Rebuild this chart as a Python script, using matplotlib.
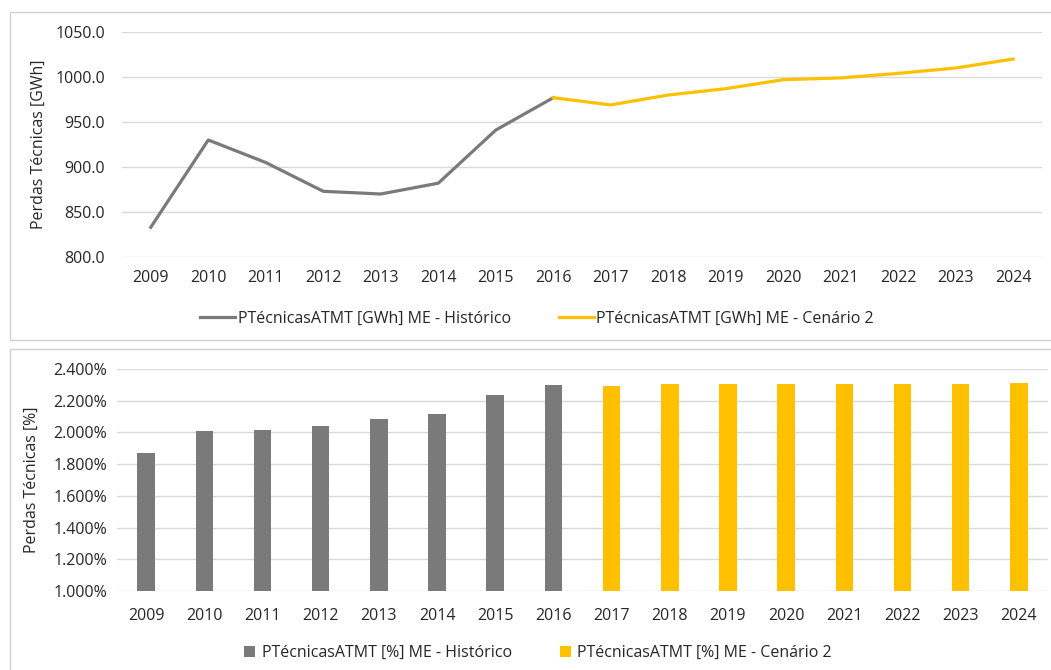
import matplotlib.pyplot as plt
from matplotlib.patches import Rectangle
from matplotlib.ticker import FuncFormatter

plt.rcParams['font.family'] = ['Open Sans', 'DejaVu Sans']

anos = ['2009', '2010', '2011', '2012', '2013', '2014', '2015', '2016',
        '2017', '2018', '2019', '2020', '2021', '2022', '2023', '2024']

# perdas em GWh
gwh_hist = [833, 930, 905, 873, 870, 882, 941, 977]
gwh_cen2 = [977, 969, 980, 987, 997, 999, 1004, 1010, 1020]

# perdas em %
pct_hist = [1.870, 2.008, 2.018, 2.043, 2.085, 2.118, 2.236, 2.300]
pct_cen2 = [2.290, 2.305, 2.305, 2.305, 2.305, 2.305, 2.307, 2.310]

cinza = '#7a7a7a'
amarelo = '#ffc000'
grelha = '#d9d9d9'
texto = '#262626'
fs = 11.5

W, H = 1051, 670
fig = plt.figure(figsize=(W / 100, H / 100), dpi=100)

# molduras dos dois graficos
for y0, y1 in [(12, 340), (349, 672)]:
    fig.patches.append(Rectangle((10 / W, 1 - y1 / H), (W - 9) / W, (y1 - y0) / H,
                                 transform=fig.transFigure, fill=False,
                                 edgecolor='#d0d0d0', linewidth=1))


def estilo(ax):
    for s in ax.spines.values():
        s.set_visible(False)
    ax.grid(axis='y', color=grelha, linewidth=1)
    ax.set_axisbelow(True)
    ax.tick_params(length=0, labelsize=fs, colors=texto)
    ax.set_xticks(range(len(anos)))
    ax.set_xticklabels(anos)
    ax.set_xlim(-0.5, len(anos) - 0.5)


# grafico de cima: linhas
ax1 = fig.add_axes([122 / W, 1 - 257 / H, 920 / W, 225 / H])
estilo(ax1)
x_hist = list(range(len(gwh_hist)))
x_cen2 = list(range(len(gwh_hist) - 1, len(anos)))
ax1.plot(x_hist, gwh_hist, color=cinza, linewidth=2.3,
         label='PTécnicasATMT [GWh] ME - Histórico')
ax1.plot(x_cen2, gwh_cen2, color=amarelo, linewidth=2.3,
         label='PTécnicasATMT [GWh] ME - Cenário 2')
ax1.set_ylim(800, 1050)
ax1.set_yticks([800, 850, 900, 950, 1000, 1050])
ax1.yaxis.set_major_formatter(FuncFormatter(lambda v, p: f'{v:.1f}'))
ax1.tick_params(axis='x', pad=9.5)
ax1.tick_params(axis='y', pad=12)
ax1.set_ylabel('Perdas Técnicas [GWh]', fontsize=fs, color=texto)
ax1.yaxis.set_label_coords(-0.0815, 0.5)
fig.legend(*ax1.get_legend_handles_labels(), loc='center', ncol=2,
           bbox_to_anchor=(537 / W, 1 - 319 / H), frameon=False,
           fontsize=fs, handlelength=2.2, handletextpad=0.15,
           columnspacing=3.0, labelcolor=texto)

# grafico de baixo: barras
ax2 = fig.add_axes([117 / W, 1 - 591 / H, 931 / W, 222 / H])
estilo(ax2)
ax2.bar(range(len(pct_hist)), [v - 1.0 for v in pct_hist], bottom=1.0,
        width=0.3, color=cinza, label='PTécnicasATMT [%] ME - Histórico')
ax2.bar(range(len(pct_hist), len(anos)), [v - 1.0 for v in pct_cen2], bottom=1.0,
        width=0.3, color=amarelo, label='PTécnicasATMT [%] ME - Cenário 2')
ax2.set_ylim(1.0, 2.4)
ax2.set_yticks([1.0, 1.2, 1.4, 1.6, 1.8, 2.0, 2.2, 2.4])
ax2.yaxis.set_major_formatter(FuncFormatter(lambda v, p: f'{v:.3f}%'))
ax2.tick_params(axis='x', pad=12)
ax2.tick_params(axis='y', pad=7)
ax2.set_ylabel('Perdas Técnicas [%]', fontsize=fs, color=texto)
ax2.yaxis.set_label_coords(-0.083, 0.5)
fig.legend(*ax2.get_legend_handles_labels(), loc='center', ncol=2,
           bbox_to_anchor=(538 / W, 1 - 653 / H), frameon=False,
           fontsize=fs, handlelength=0.7, handleheight=0.7,
           handletextpad=0.4, columnspacing=3.0, labelcolor=texto)

fig.savefig('out.png', dpi=100, facecolor='white')
